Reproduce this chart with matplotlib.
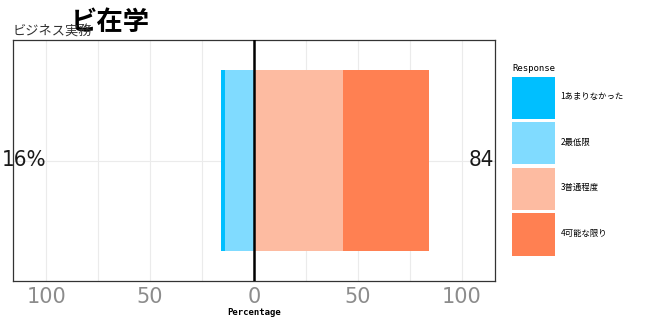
import matplotlib.pyplot as plt
from matplotlib.patches import Patch

# data
responses = ['1あまりなかった', '2最低限', '3普通程度', '4可能な限り']
values = [2, 14, 43, 41]
colours = ['#00BFFF', '#80DBFF', '#FDBBA1', '#FF8052']
low_label = '16%'
high_label = '84'
title = 'ビ在学'
subtitle = 'ビジネス実務'

jp = ['Noto Sans CJK JP', 'DejaVu Sans']

fig = plt.figure(figsize=(6.5, 3.27), dpi=100)
ax = fig.add_axes([13/650, 46/327, 482/650, 241/327])

y = 1
# negative side: stack leftwards from zero
left = 0
for v, c in zip(values[1::-1], colours[1::-1]):
    left -= v
    ax.barh(y, v, left=left, height=0.9, color=c, zorder=2)
# positive side
left = 0
for v, c in zip(values[2:], colours[2:]):
    ax.barh(y, v, left=left, height=0.9, color=c, zorder=2)
    left += v

ax.axvline(0, color='black', lw=1.8, zorder=3)

ax.set_xlim(-116, 116)
ax.set_ylim(0.4, 1.6)
ax.set_xticks([-100, -50, 0, 50, 100])
ax.set_xticklabels(['100', '50', '0', '50', '100'])
ax.set_xticks([-75, -25, 25, 75], minor=True)
ax.set_yticks([])
ax.grid(True, which='both', axis='x', color='#EBEBEB', lw=0.8, zorder=0)
ax.axhline(y, color='#EBEBEB', lw=0.8, zorder=0)
ax.tick_params(axis='x', which='both', length=0, labelsize=15, labelcolor='#8C8C8C', pad=4)
for s in ax.spines.values():
    s.set_color('#333333')
    s.set_linewidth(0.9)

ax.text(-110.5, y, low_label, ha='center', va='center', fontsize=16, stretch='condensed',
        family='DejaVu Sans', color='#1a1a1a', zorder=4)
ax.text(109.5, y, high_label, ha='center', va='center', fontsize=16, stretch='condensed',
        family='DejaVu Sans', color='#1a1a1a', zorder=4)

ax.set_xlabel('Percentage', family='DejaVu Sans Mono', fontweight='bold', fontsize=6.5, labelpad=1)

fig.text(110/650, 1 - 22/327, title, ha='center', va='center', fontsize=19,
         fontweight='bold', family=jp)
fig.text(13/650, 1 - 32/327, subtitle, ha='left', va='center', fontsize=9.5,
         family=jp, color='#333333')

handles = [Patch(facecolor=c, edgecolor='none') for c in colours]
leg = fig.legend(handles, responses, loc='upper left', bbox_to_anchor=(512/650, 1 - 64/327),
                 frameon=False, prop={'family': jp, 'size': 6},
                 handlelength=5.1, handleheight=7.4, labelspacing=0.42, handletextpad=0.7,
                 title='Response', title_fontproperties={'family': 'DejaVu Sans Mono', 'size': 6.5},
                 alignment='left', borderaxespad=0, borderpad=0)

fig.savefig('out.png', dpi=100)
